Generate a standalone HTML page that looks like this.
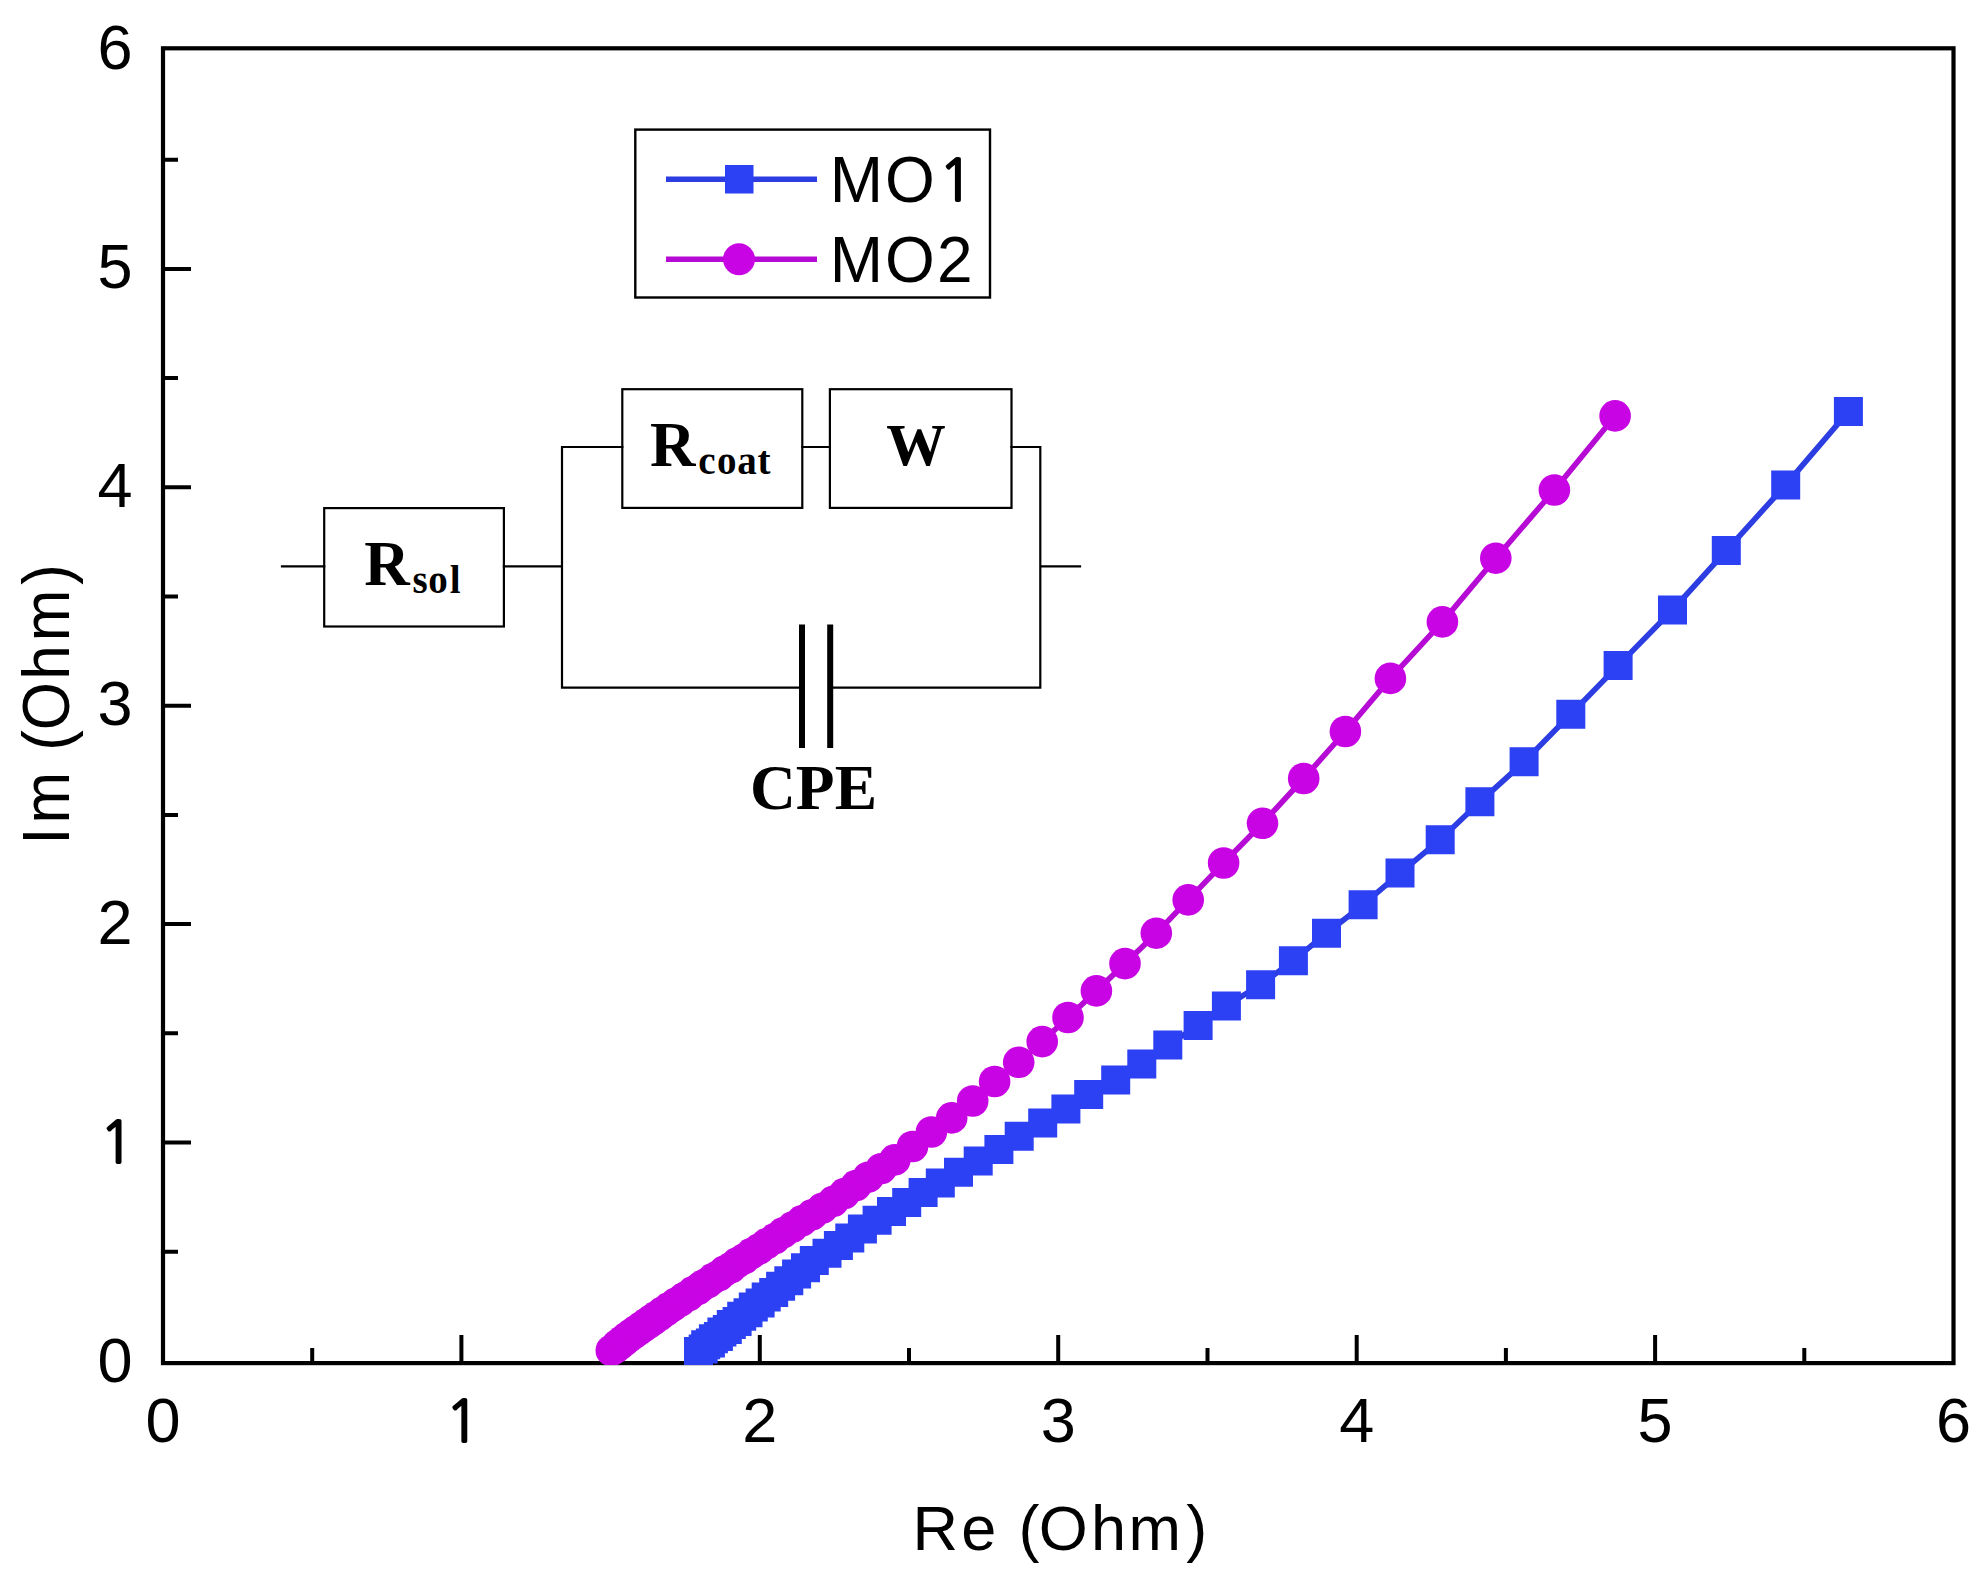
<!DOCTYPE html>
<html lang="en"><head><meta charset="utf-8"><title>Nyquist plot</title>
<style>
html,body{margin:0;padding:0;background:#fff;}
body{width:1986px;height:1582px;overflow:hidden;}
svg{display:block;}
.t{font-family:"Liberation Sans", sans-serif;font-size:63px;fill:#000;}
.tt{font-family:"Liberation Sans", sans-serif;font-size:64px;fill:#000;}
.ta{font-family:"Liberation Sans", sans-serif;font-size:63px;fill:#000;}
.one{font-family:NanumGothic,"Liberation Sans",sans-serif;font-size:57px;fill:#000;stroke:#000;stroke-width:2px;stroke-linejoin:miter;}
.s{font-family:"Liberation Serif", serif;font-weight:bold;fill:#000;}
</style></head><body>
<svg width="1986" height="1582" viewBox="0 0 1986 1582">
<rect width="1986" height="1582" fill="#fff"/>
<defs><clipPath id="c"><rect x="163.0" y="48.3" width="1790.5" height="1316.8"/></clipPath></defs>

<rect x="163.0" y="48.3" width="1790.5" height="1314.8" fill="none" stroke="#000" stroke-width="4.2"/>
<path d="M312.2 1363.1v-15M163.0 1251.7h15M461.4 1363.1v-28M163.0 1142.5h28M610.6 1363.1v-15M163.0 1033.3h15M759.8 1363.1v-28M163.0 924.1h28M909.0 1363.1v-15M163.0 814.9h15M1058.2 1363.1v-28M163.0 705.7h28M1207.5 1363.1v-15M163.0 596.5h15M1356.7 1363.1v-28M163.0 487.3h28M1505.9 1363.1v-15M163.0 378.1h15M1655.1 1363.1v-28M163.0 268.9h28M1804.3 1363.1v-15M163.0 159.7h15" stroke="#000" stroke-width="4" fill="none"/>
<text class="t" x="163.0" y="1442" text-anchor="middle">0</text>
<text class="t" x="115" y="1381.9" text-anchor="middle">0</text>
<text class="one" x="445.2" y="1442">1</text>
<text class="one" x="99.5" y="1163.2">1</text>
<text class="t" x="759.8" y="1442" text-anchor="middle">2</text>
<text class="t" x="115" y="944.2" text-anchor="middle">2</text>
<text class="t" x="1058.2" y="1442" text-anchor="middle">3</text>
<text class="t" x="115" y="725.4" text-anchor="middle">3</text>
<text class="t" x="1356.7" y="1442" text-anchor="middle">4</text>
<text class="t" x="115" y="506.5" text-anchor="middle">4</text>
<text class="t" x="1655.1" y="1442" text-anchor="middle">5</text>
<text class="t" x="115" y="287.7" text-anchor="middle">5</text>
<text class="t" x="1953.5" y="1442" text-anchor="middle">6</text>
<text class="t" x="115" y="68.8" text-anchor="middle">6</text>
<text class="ta" x="912.5 961.3 998 1018.4 1038.7 1090.9 1128.6 1186.3" y="1550.4">Re (Ohm)</text>
<text class="tt" style="font-size:62px" transform="translate(69.2 845) rotate(-90) scale(1 1.09)" x="0.3 21.4 75 94.3 114.8 165.3 203.7 260.3" y="0">Im (Ohm)</text>
<g clip-path="url(#c)">
<g fill="#2C40F4"><path d="M698.5 1351.6 L703.2 1348.9 L705.7 1344.8 L710.4 1343.0 L713.4 1338.8 L718.4 1336.6 L721.9 1332.0 L727.3 1329.4 L731.3 1324.6 L737.1 1321.5 L741.7 1316.3 L748.0 1312.7 L753.3 1307.1 L760.1 1302.9 L766.2 1297.1 L773.7 1292.4 L780.6 1286.2 L788.8 1280.7 L796.6 1274.0 L805.5 1267.8 L814.3 1260.6 L827.0 1253.2 L838.4 1245.6 L849.8 1238.0 L862.4 1229.1 L877.1 1220.3 L891.5 1211.4 L906.7 1202.6 L923.1 1192.5 L940.3 1183.1 L958.5 1172.2 L978.2 1160.9 L998.9 1149.5 L1019.2 1136.3 L1042.7 1123.0 L1065.9 1109.0 L1088.7 1094.6 L1115.7 1080.0 L1141.8 1064.1 L1167.8 1045.1 L1198.1 1025.6 L1226.4 1005.9 L1260.6 984.7 L1293.4 960.7 L1326.5 933.2 L1363.1 904.7 L1400.0 873.1 L1440.2 839.7 L1479.9 801.8 L1524.1 761.8 L1570.8 714.2 L1618.1 665.6 L1672.5 610.0 L1726.3 550.6 L1785.7 484.9 L1848.4 411.6" fill="none" stroke="#2C3DE2" stroke-width="5.6" stroke-linejoin="round"/><path d="M684.0 1337.1h29v29h-29zM688.7 1334.4h29v29h-29zM691.2 1330.3h29v29h-29zM695.9 1328.5h29v29h-29zM698.9 1324.3h29v29h-29zM703.9 1322.1h29v29h-29zM707.4 1317.5h29v29h-29zM712.8 1314.9h29v29h-29zM716.8 1310.1h29v29h-29zM722.6 1307.0h29v29h-29zM727.2 1301.8h29v29h-29zM733.5 1298.2h29v29h-29zM738.8 1292.6h29v29h-29zM745.6 1288.4h29v29h-29zM751.7 1282.6h29v29h-29zM759.2 1277.9h29v29h-29zM766.1 1271.7h29v29h-29zM774.3 1266.2h29v29h-29zM782.1 1259.5h29v29h-29zM791.0 1253.3h29v29h-29zM799.8 1246.1h29v29h-29zM812.5 1238.7h29v29h-29zM823.9 1231.1h29v29h-29zM835.3 1223.5h29v29h-29zM847.9 1214.6h29v29h-29zM862.6 1205.8h29v29h-29zM877.0 1196.9h29v29h-29zM892.2 1188.1h29v29h-29zM908.6 1178.0h29v29h-29zM925.8 1168.6h29v29h-29zM944.0 1157.7h29v29h-29zM963.7 1146.4h29v29h-29zM984.4 1135.0h29v29h-29zM1004.7 1121.8h29v29h-29zM1028.2 1108.5h29v29h-29zM1051.4 1094.5h29v29h-29zM1074.2 1080.1h29v29h-29zM1101.2 1065.5h29v29h-29zM1127.3 1049.6h29v29h-29zM1153.3 1030.6h29v29h-29zM1183.6 1011.1h29v29h-29zM1211.9 991.4h29v29h-29zM1246.1 970.2h29v29h-29zM1278.9 946.2h29v29h-29zM1312.0 918.7h29v29h-29zM1348.6 890.2h29v29h-29zM1385.5 858.6h29v29h-29zM1425.7 825.2h29v29h-29zM1465.4 787.3h29v29h-29zM1509.6 747.3h29v29h-29zM1556.3 699.7h29v29h-29zM1603.6 651.1h29v29h-29zM1658.0 595.5h29v29h-29zM1711.8 536.1h29v29h-29zM1771.2 470.4h29v29h-29zM1833.9 397.1h29v29h-29z" fill="#2C40F4"/></g>
<g fill="#C803E4"><path d="M611.3 1350.5 L615.3 1348.1 L616.9 1345.3 L620.0 1344.3 L621.6 1341.6 L624.7 1340.6 L626.3 1337.8 L629.3 1336.8 L631.1 1334.2 L634.2 1333.3 L636.0 1330.7 L639.1 1329.9 L640.9 1327.3 L644.0 1326.4 L645.8 1323.8 L648.9 1323.0 L650.8 1320.3 L654.1 1319.3 L656.3 1316.5 L659.7 1315.3 L662.2 1312.4 L666.0 1310.9 L668.8 1307.8 L672.8 1306.2 L676.1 1303.0 L680.4 1301.1 L684.1 1297.7 L688.8 1295.5 L692.8 1291.9 L698.0 1289.4 L702.5 1285.5 L708.0 1282.7 L713.0 1278.6 L719.1 1275.5 L724.6 1271.0 L731.2 1267.5 L737.3 1262.7 L744.4 1258.7 L751.3 1253.6 L759.0 1249.1 L766.6 1243.6 L775.0 1238.6 L783.3 1232.7 L792.5 1227.1 L801.9 1220.9 L812.0 1214.9 L822.4 1208.2 L833.3 1201.3 L844.4 1193.6 L856.0 1185.6 L868.2 1177.2 L881.2 1168.7 L894.8 1159.9 L912.5 1146.5 L931.4 1132.0 L951.7 1117.9 L972.7 1101.0 L994.6 1081.5 L1018.7 1062.3 L1042.2 1041.6 L1068.0 1017.5 L1096.4 990.9 L1125.0 963.6 L1156.3 933.2 L1188.2 899.9 L1223.6 863.0 L1262.5 823.3 L1303.7 778.5 L1345.4 731.5 L1390.4 678.4 L1442.4 621.9 L1495.8 558.2 L1554.4 490.0 L1615.1 415.9" fill="none" stroke="#B60BD4" stroke-width="5.6" stroke-linejoin="round"/><circle cx="611.3" cy="1350.5" r="15.8"/><circle cx="615.3" cy="1348.1" r="15.8"/><circle cx="616.9" cy="1345.3" r="15.8"/><circle cx="620.0" cy="1344.3" r="15.8"/><circle cx="621.6" cy="1341.6" r="15.8"/><circle cx="624.7" cy="1340.6" r="15.8"/><circle cx="626.3" cy="1337.8" r="15.8"/><circle cx="629.3" cy="1336.8" r="15.8"/><circle cx="631.1" cy="1334.2" r="15.8"/><circle cx="634.2" cy="1333.3" r="15.8"/><circle cx="636.0" cy="1330.7" r="15.8"/><circle cx="639.1" cy="1329.9" r="15.8"/><circle cx="640.9" cy="1327.3" r="15.8"/><circle cx="644.0" cy="1326.4" r="15.8"/><circle cx="645.8" cy="1323.8" r="15.8"/><circle cx="648.9" cy="1323.0" r="15.8"/><circle cx="650.8" cy="1320.3" r="15.8"/><circle cx="654.1" cy="1319.3" r="15.8"/><circle cx="656.3" cy="1316.5" r="15.8"/><circle cx="659.7" cy="1315.3" r="15.8"/><circle cx="662.2" cy="1312.4" r="15.8"/><circle cx="666.0" cy="1310.9" r="15.8"/><circle cx="668.8" cy="1307.8" r="15.8"/><circle cx="672.8" cy="1306.2" r="15.8"/><circle cx="676.1" cy="1303.0" r="15.8"/><circle cx="680.4" cy="1301.1" r="15.8"/><circle cx="684.1" cy="1297.7" r="15.8"/><circle cx="688.8" cy="1295.5" r="15.8"/><circle cx="692.8" cy="1291.9" r="15.8"/><circle cx="698.0" cy="1289.4" r="15.8"/><circle cx="702.5" cy="1285.5" r="15.8"/><circle cx="708.0" cy="1282.7" r="15.8"/><circle cx="713.0" cy="1278.6" r="15.8"/><circle cx="719.1" cy="1275.5" r="15.8"/><circle cx="724.6" cy="1271.0" r="15.8"/><circle cx="731.2" cy="1267.5" r="15.8"/><circle cx="737.3" cy="1262.7" r="15.8"/><circle cx="744.4" cy="1258.7" r="15.8"/><circle cx="751.3" cy="1253.6" r="15.8"/><circle cx="759.0" cy="1249.1" r="15.8"/><circle cx="766.6" cy="1243.6" r="15.8"/><circle cx="775.0" cy="1238.6" r="15.8"/><circle cx="783.3" cy="1232.7" r="15.8"/><circle cx="792.5" cy="1227.1" r="15.8"/><circle cx="801.9" cy="1220.9" r="15.8"/><circle cx="812.0" cy="1214.9" r="15.8"/><circle cx="822.4" cy="1208.2" r="15.8"/><circle cx="833.3" cy="1201.3" r="15.8"/><circle cx="844.4" cy="1193.6" r="15.8"/><circle cx="856.0" cy="1185.6" r="15.8"/><circle cx="868.2" cy="1177.2" r="15.8"/><circle cx="881.2" cy="1168.7" r="15.8"/><circle cx="894.8" cy="1159.9" r="15.8"/><circle cx="912.5" cy="1146.5" r="15.8"/><circle cx="931.4" cy="1132.0" r="15.8"/><circle cx="951.7" cy="1117.9" r="15.8"/><circle cx="972.7" cy="1101.0" r="15.8"/><circle cx="994.6" cy="1081.5" r="15.8"/><circle cx="1018.7" cy="1062.3" r="15.8"/><circle cx="1042.2" cy="1041.6" r="15.8"/><circle cx="1068.0" cy="1017.5" r="15.8"/><circle cx="1096.4" cy="990.9" r="15.8"/><circle cx="1125.0" cy="963.6" r="15.8"/><circle cx="1156.3" cy="933.2" r="15.8"/><circle cx="1188.2" cy="899.9" r="15.8"/><circle cx="1223.6" cy="863.0" r="15.8"/><circle cx="1262.5" cy="823.3" r="15.8"/><circle cx="1303.7" cy="778.5" r="15.8"/><circle cx="1345.4" cy="731.5" r="15.8"/><circle cx="1390.4" cy="678.4" r="15.8"/><circle cx="1442.4" cy="621.9" r="15.8"/><circle cx="1495.8" cy="558.2" r="15.8"/><circle cx="1554.4" cy="490.0" r="15.8"/><circle cx="1615.1" cy="415.9" r="15.8"/></g>
</g>
<rect x="635.3" y="129.6" width="354.7" height="167.9" fill="#fff" stroke="#000" stroke-width="2.4"/>
<path d="M666 179.3H817" stroke="#2C3DE2" stroke-width="5.6"/><rect x="725" y="165" width="28.5" height="28.5" fill="#2C40F4"/>
<path d="M666 259.2H817" stroke="#B60BD4" stroke-width="5.6"/><circle cx="739" cy="259.2" r="16" fill="#C803E4"/>
<text class="tt" x="829.8 885.1" y="201.6">MO<tspan class="one" style="font-size:58px" x="938.6" y="201.4">1</tspan></text>
<text class="tt" x="829.8 885.1 936.9" y="282">MO2</text>
<path d="M282 566.3H324.2M503.9 566.3H562M562 447V687.6M562 447H622.3M802.3 447H829.9M1011.5 447H1040.3M1040.3 447V687.6M1040.3 566.3H1080M562 687.6H802M830.2 687.6H1040.3" stroke="#000" stroke-width="2.2" fill="none" stroke-linecap="square"/>
<rect x="324.2" y="508.1" width="179.7" height="118.4" fill="none" stroke="#000" stroke-width="2.2"/>
<rect x="622.3" y="389.2" width="180" height="118.7" fill="none" stroke="#000" stroke-width="2.2"/>
<rect x="829.9" y="389.2" width="181.6" height="118.7" fill="none" stroke="#000" stroke-width="2.2"/>
<path d="M802 624.5V748M830.2 624.5V748" stroke="#000" stroke-width="6" fill="none"/>
<text class="s" x="364.3" y="584.6" font-size="63">R<tspan font-size="39" dy="8" x="412.4 428.2 449.8">sol</tspan></text>
<text class="s" x="650" y="465.6" font-size="63">R<tspan font-size="39" dy="8" x="698.3 717 737.2 757.5">coat</tspan></text>
<text class="s" x="916" y="464.6" font-size="59.5" text-anchor="middle">W</text>
<text class="s" x="813.5" y="809.2" font-size="63.5" text-anchor="middle">CPE</text>
</svg></body></html>
